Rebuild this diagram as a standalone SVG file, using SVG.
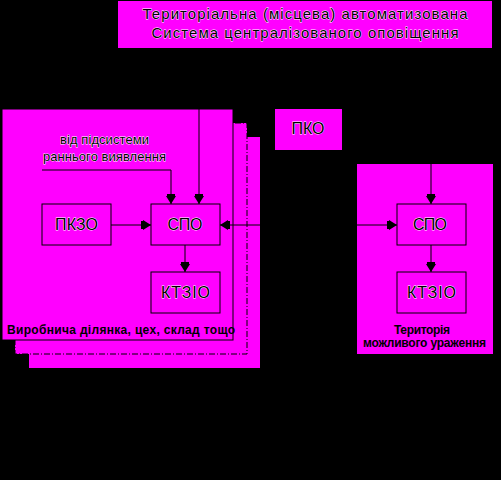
<svg xmlns="http://www.w3.org/2000/svg" width="501" height="480" viewBox="0 0 501 480">
<defs>
<style>
.area{fill:#ff00ff;stroke:none}
.box{fill:#ff00ff;stroke:#000;stroke-width:1}
.t{font-family:"Liberation Sans",Arial,sans-serif;fill:#000;stroke:#fff;stroke-width:0.8;paint-order:stroke;text-anchor:middle}
.b{font-family:"Liberation Sans",Arial,sans-serif;font-weight:bold;fill:#000;font-size:12px;text-anchor:middle}
.ln{stroke:#000;stroke-width:1;fill:none}
</style>
<marker id="ah" viewBox="0 0 10 10" refX="10" refY="5" markerWidth="10" markerHeight="10" markerUnits="userSpaceOnUse" orient="auto">
<path d="M0,1 L2,1 L2,0 L10,5 L2,10 L2,9 L0,9 Z" fill="#000"/>
</marker>
<marker id="ahs" viewBox="0 0 10 10" refX="0" refY="5" markerWidth="10" markerHeight="10" markerUnits="userSpaceOnUse" orient="auto">
<path d="M10,1 L8,1 L8,0 L0,5 L8,10 L8,9 L10,9 Z" fill="#000"/>
</marker>
</defs>
<rect width="501" height="480" fill="#000"/>

<g id="title">
<rect class="area" x="118" y="1" width="374" height="47"/>
<text class="t" x="305" y="19" font-size="15" textLength="325" lengthAdjust="spacing">Територіальна (місцева) автоматизована</text>
<text class="t" x="305" y="38" font-size="15" textLength="307" lengthAdjust="spacing">Система централізованого оповіщення</text>
</g>

<g id="area3"><rect class="area" x="29" y="137" width="231" height="231"/></g>
<g id="area2"><rect class="box" x="15" y="123" width="232" height="231" stroke-dasharray="6,2,1,2"/></g>
<g id="area1">
<rect class="box" x="2" y="109" width="231" height="231"/>
<text class="t" x="104.5" y="144" font-size="13" textLength="89" lengthAdjust="spacing">від підсистеми</text>
<text class="t" x="104.5" y="161" font-size="13" textLength="123" lengthAdjust="spacing">раннього виявлення</text>
<text class="b" x="121" y="334" textLength="228" lengthAdjust="spacing">Виробнича ділянка, цех, склад тощо</text>
</g>

<g id="pko">
<rect class="area" x="275" y="109" width="67" height="41"/>
<text class="t" x="308" y="134" font-size="16" textLength="33" lengthAdjust="spacing">ПКО</text>
</g>

<g id="area-right">
<rect class="area" x="357" y="164" width="136" height="190"/>
<text class="b" x="422" y="334" textLength="56" lengthAdjust="spacing">Територія</text>
<text class="b" x="424.5" y="347" textLength="123" lengthAdjust="spacing">можливого ураження</text>
</g>

<g id="pkzo">
<rect class="box" x="42" y="204" width="69" height="41"/>
<text class="t" x="76.5" y="230" font-size="16" textLength="43" lengthAdjust="spacing">ПКЗО</text>
</g>
<g id="spo1">
<rect class="box" x="151" y="204" width="69" height="41"/>
<text class="t" x="185" y="230" font-size="16" textLength="35" lengthAdjust="spacing">СПО</text>
</g>
<g id="ktzio1">
<rect class="box" x="151" y="272" width="69" height="41"/>
<text class="t" x="185.5" y="298" font-size="16" textLength="49" lengthAdjust="spacing">КТЗІО</text>
</g>
<g id="spo2">
<rect class="box" x="397" y="204" width="69" height="41"/>
<text class="t" x="430" y="230" font-size="16" textLength="34" lengthAdjust="spacing">СПО</text>
</g>
<g id="ktzio2">
<rect class="box" x="397" y="272" width="69" height="41"/>
<text class="t" x="431.5" y="298" font-size="16" textLength="49" lengthAdjust="spacing">КТЗІО</text>
</g>

<g id="connectors">
<path class="ln" d="M42,170 H171 V204" marker-end="url(#ah)"/>
<path class="ln" d="M199,48 V204" marker-end="url(#ah)"/>
<path class="ln" d="M111,225 H151" marker-end="url(#ah)"/>
<path class="ln" d="M220,225 H397" marker-start="url(#ahs)" marker-end="url(#ah)"/>
<path class="ln" d="M185,245 V272" marker-end="url(#ah)"/>
<path class="ln" d="M431,48 V204" marker-end="url(#ah)"/>
<path class="ln" d="M431,245 V272" marker-end="url(#ah)"/>
</g>
</svg>
